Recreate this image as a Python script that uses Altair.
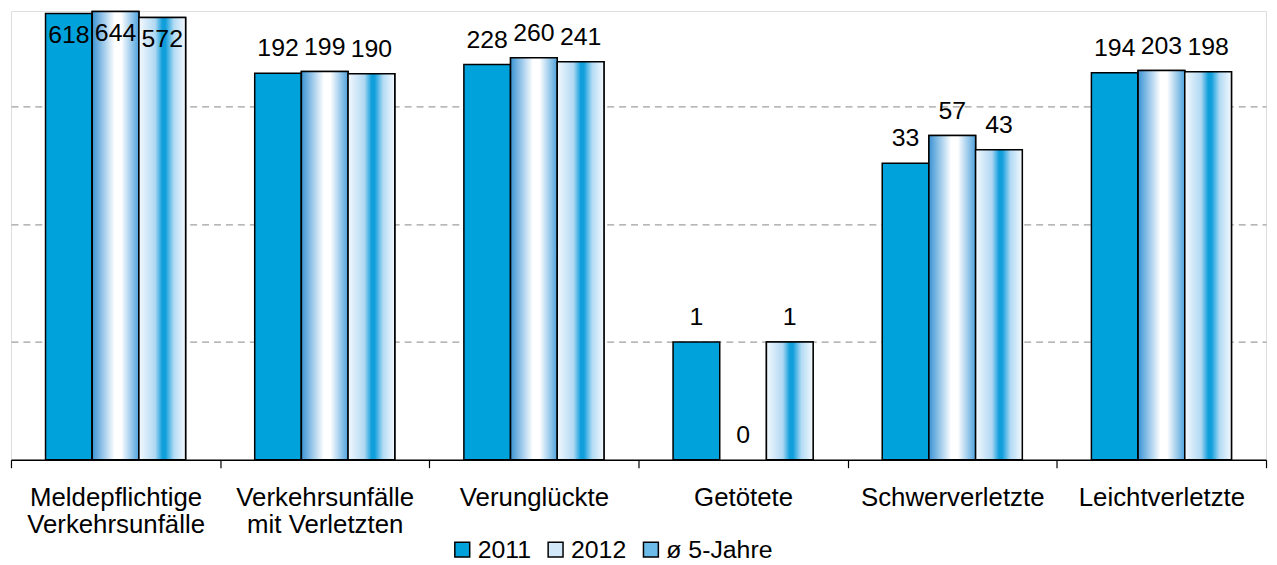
import altair as alt
import pandas as pd

categories = ["Meldepflichtige|Verkehrsunfälle", "Verkehrsunfälle|mit Verletzten",
              "Verunglückte", "Getötete", "Schwerverletzte", "Leichtverletzte"]
series = ["2011", "2012", "ø 5-Jahre"]
v2011 = [618, 192, 228, 1, 33, 194]
v2012 = [644, 199, 260, 0, 57, 203]
v5j = [572, 190, 241, 1, 43, 198]

rows = []
for s, vals in zip(series, [v2011, v2012, v5j]):
    for c, v in zip(categories, vals):
        rows.append({"cat": c, "series": s, "v": v})
df = pd.DataFrame(rows)

FONT = "Liberation Sans"
BLUE = "#00a2dc"

grad2012 = alt.LinearGradient(
    gradient="linear", x1=0, x2=1, y1=0, y2=0,
    stops=[alt.GradientStop(offset=0, color="#3a93d5"),
           alt.GradientStop(offset=0.48, color="#ffffff"),
           alt.GradientStop(offset=0.62, color="#ffffff"),
           alt.GradientStop(offset=1, color="#4ea2dd")])
grad5j = alt.LinearGradient(
    gradient="linear", x1=0, x2=1, y1=0, y2=0,
    stops=[alt.GradientStop(offset=0, color="#f4f9fe"),
           alt.GradientStop(offset=0.35, color="#b0d8f3"),
           alt.GradientStop(offset=0.5, color="#119fdc"),
           alt.GradientStop(offset=0.57, color="#119fdc"),
           alt.GradientStop(offset=0.75, color="#b3dbf4"),
           alt.GradientStop(offset=1, color="#f4f9fe")])

xenc = alt.X("cat:N", sort=categories,
             scale=alt.Scale(domain=categories, paddingInner=0, paddingOuter=0),
             axis=alt.Axis(title=None, labelExpr="split(datum.label, '|')", labelAngle=0,
                           tickBand="extent", labelFontSize=26, labelFont=FONT,
                           labelColor="black", domainColor="black", domainWidth=1.5,
                           tickColor="black", tickWidth=1.2, tickSize=8, labelPadding=17,
                           labelLineHeight=27, labelBaseline="top", labelLimit=400,
                           grid=False))
xoff = alt.XOffset("series:N", sort=series,
                   scale=alt.Scale(domain=series, paddingInner=0, paddingOuter=0.74))
yscale = alt.Scale(type="log", domain=[0.1, 650], nice=False)
yaxis = alt.Axis(values=[1, 10, 100], grid=True, labels=False, ticks=False, domain=False,
                 title=None, gridDash=[7, 5], gridColor="#a0a0a0", gridWidth=1.2)

base = alt.Chart(df)

bars_all = base.transform_filter("datum.v > 0").mark_bar(stroke="black", strokeWidth=1.5).encode(
    x=xenc, xOffset=xoff,
    y=alt.Y("v:Q", scale=yscale, axis=yaxis, stack=None),
    y2=alt.datum(0.1),
    fill=alt.Fill("series:N", sort=series,
                  scale=alt.Scale(domain=series, range=[BLUE, "#d2e8f8", "#6dbbe9"]),
                  legend=alt.Legend(title=None, orient="none", legendX=442, legendY=530,
                                    direction="horizontal", symbolType="square",
                                    symbolSize=225, symbolStrokeColor="black",
                                    symbolStrokeWidth=1.5, labelFontSize=25, labelFont=FONT,
                                    labelColor="black", columnPadding=12, labelOffset=3,
                                    gridAlign="none", padding=0)),
)

bars_2012 = base.transform_filter("datum.v > 0 && datum.series == '2012'").mark_bar(
    fill=grad2012, stroke="black", strokeWidth=1.5).encode(
    x=xenc, xOffset=xoff,
    y=alt.Y("v:Q", scale=yscale, axis=yaxis, stack=None), y2=alt.datum(0.1))

bars_5j = base.transform_filter("datum.v > 0 && datum.series == 'ø 5-Jahre'").mark_bar(
    fill=grad5j, stroke="black", strokeWidth=1.5).encode(
    x=xenc, xOffset=xoff,
    y=alt.Y("v:Q", scale=yscale, axis=yaxis, stack=None), y2=alt.datum(0.1))

text_out = base.transform_filter("datum.v < 400").transform_calculate(
    yp="max(datum.v, 0.1)").mark_text(dy=-25, fontSize=25, font=FONT, color="black",
                                      baseline="middle").encode(
    x=xenc, xOffset=xoff,
    y=alt.Y("yp:Q", scale=yscale, axis=yaxis, stack=None), text="v:Q")

text_in = base.transform_filter("datum.v >= 400").mark_text(
    dy=22, fontSize=25, font=FONT, color="black", baseline="middle").encode(
    x=xenc, xOffset=xoff,
    y=alt.Y("v:Q", scale=yscale, axis=yaxis, stack=None), text="v:Q")

chart = alt.layer(bars_all, bars_2012, bars_5j, text_out, text_in).properties(
    width=1264, height=452,
    padding={"left": 2, "top": 0, "right": 2, "bottom": 0},
).configure_view(stroke=None).configure(font=FONT)

chart.save("out.html", embed_options={"renderer": "svg", "actions": False})
